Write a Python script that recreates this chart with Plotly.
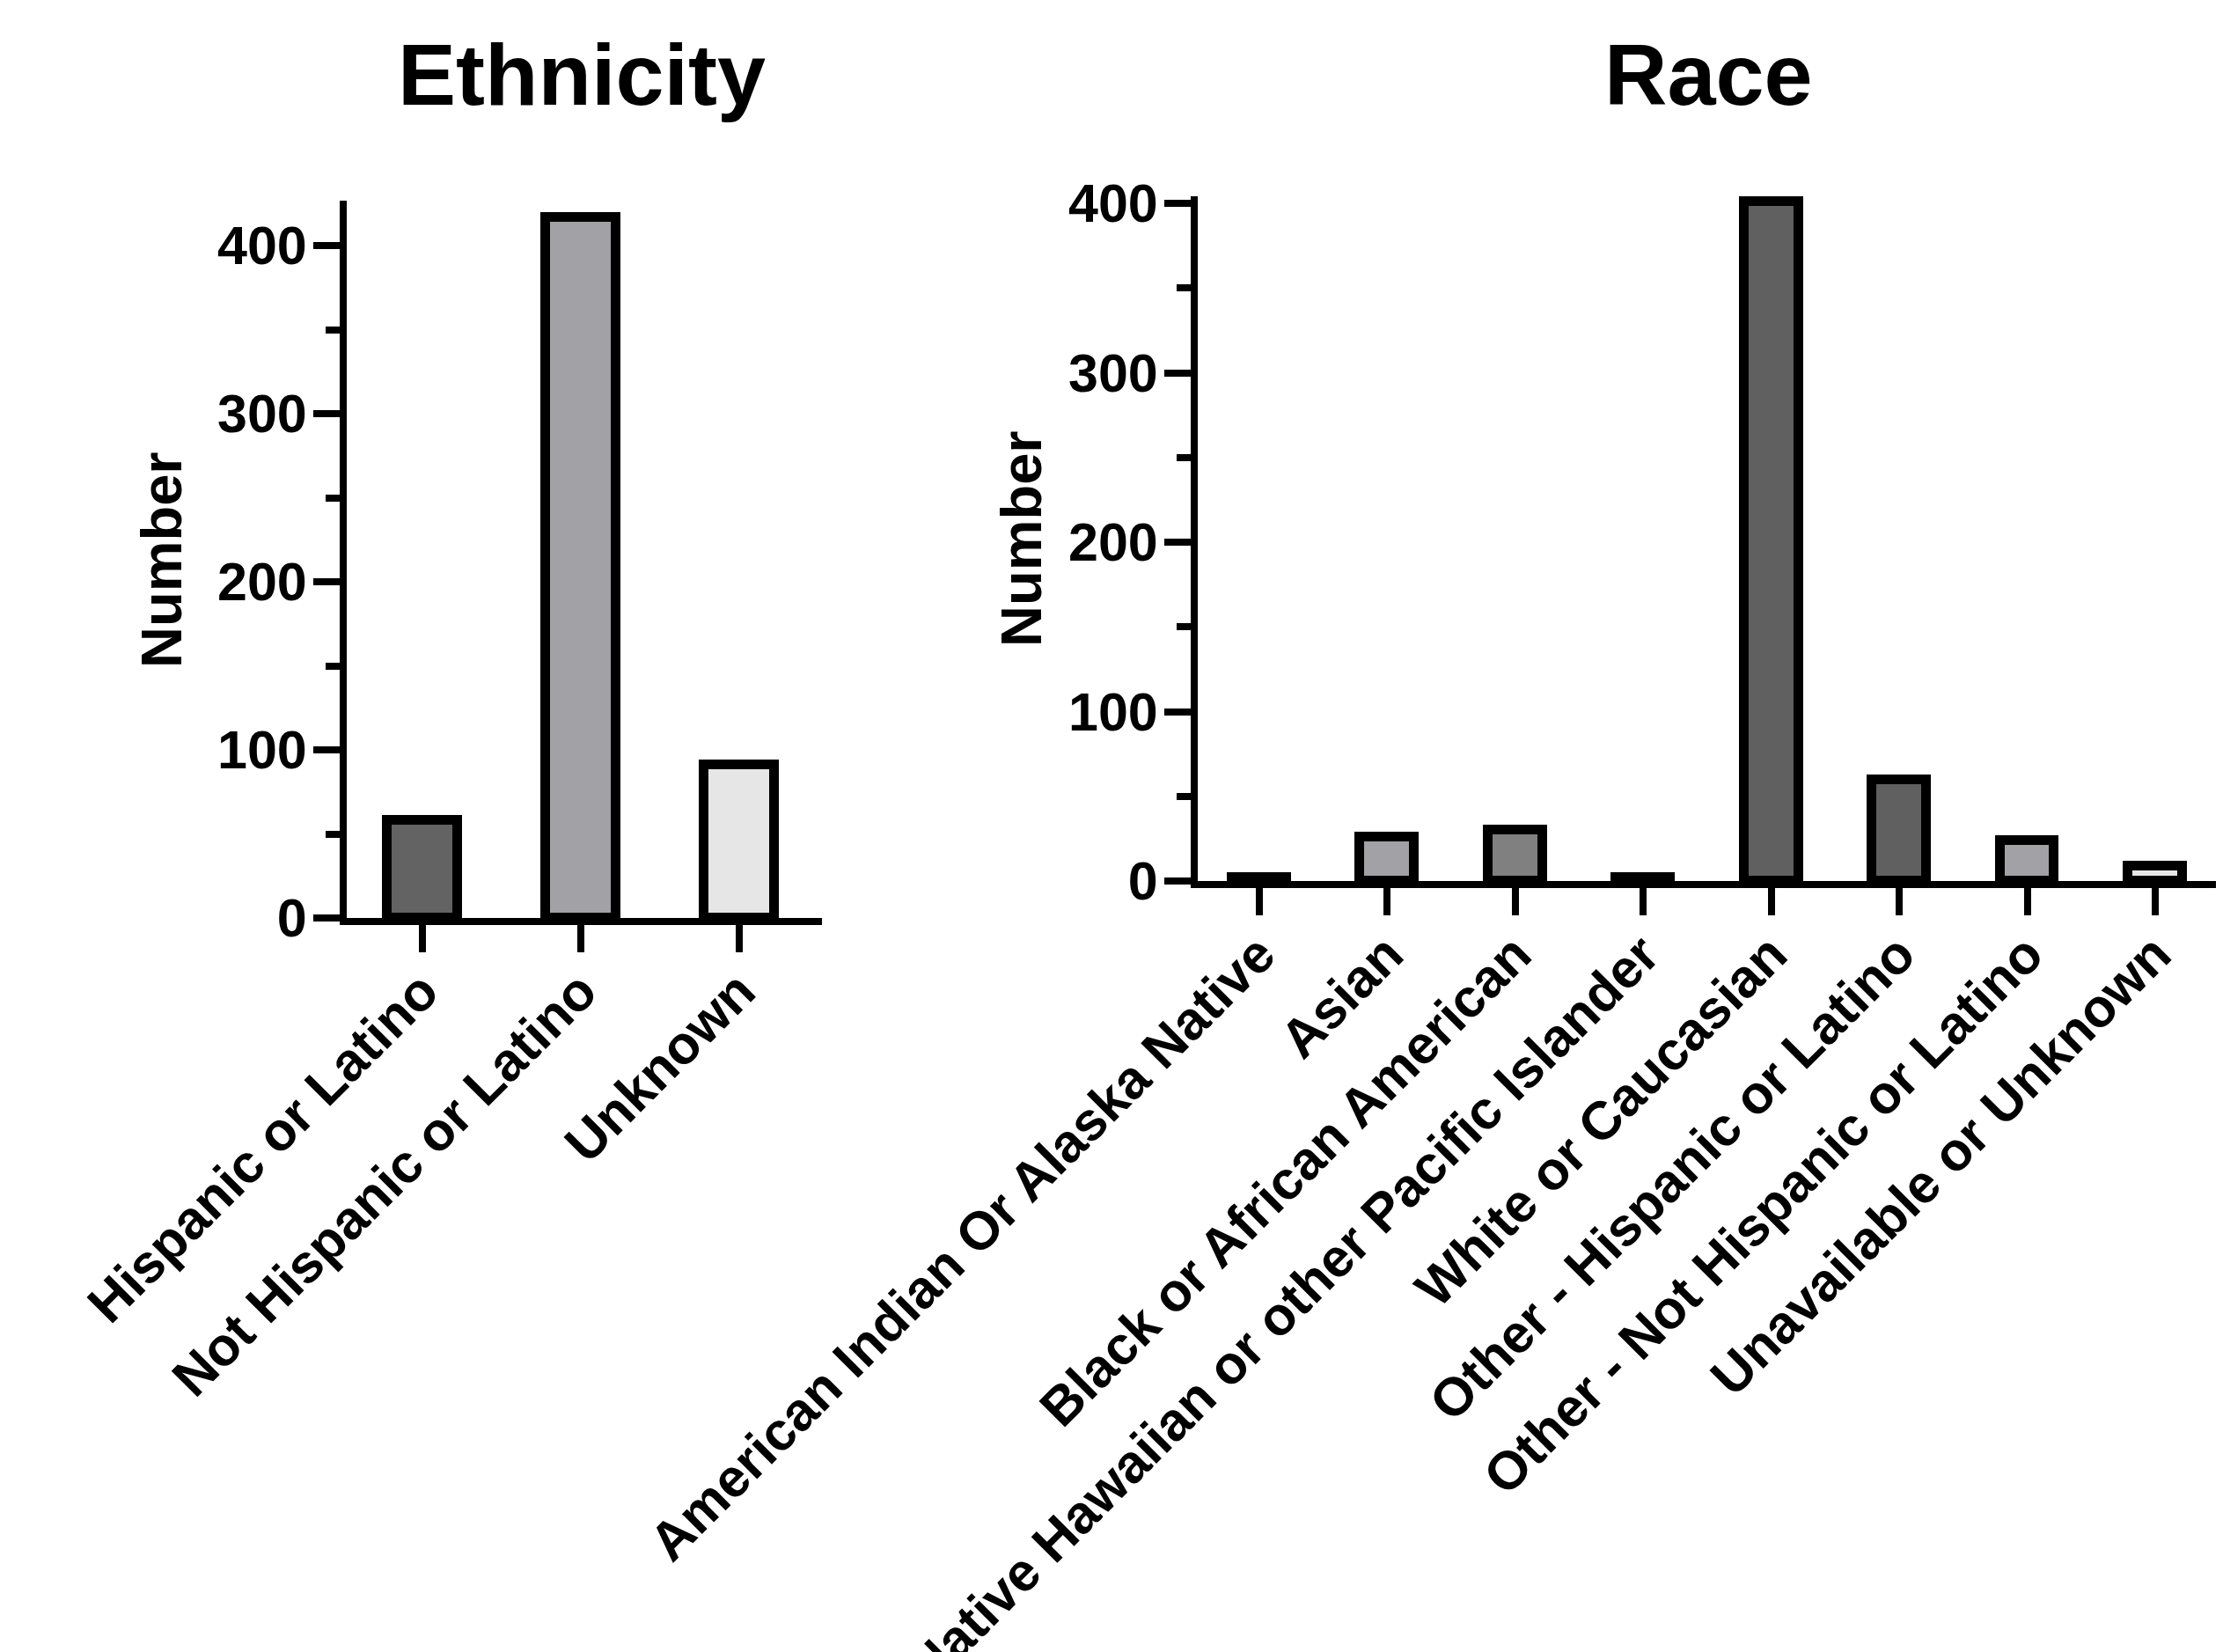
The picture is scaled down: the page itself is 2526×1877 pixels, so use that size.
import plotly.graph_objects as go

# ---------------- data ----------------
eth_cats = ["Hispanic or Latino", "Not Hispanic or Latino", "Unknown"]
eth_vals = [58, 417, 91]
eth_colors = ["#636363", "#a2a1a6", "#e6e6e6"]

race_cats = [
    "American Indian Or Alaska Native",
    "Asian",
    "Black or African American",
    "Native Hawaiian or other Pacific Islander",
    "White or Caucasian",
    "Other - Hispanic or Latino",
    "Other - Not Hispanic or Latino",
    "Unavailable or Unknown",
]
race_vals = [2, 26, 30, 2, 401, 60, 24, 9]
race_colors = ["#636363", "#a2a1a6", "#808080", "#a2a1a6",
               "#606060", "#606060", "#a2a1a6", "#e6e6e6"]

y_ticks = [0, 100, 200, 300, 400]

W, H = 2526, 1877
OFF = 8  # default page body margin
FONT = "Liberation Sans, Arial, sans-serif"
TICKFONT = dict(family=FONT, size=61, color="black", weight="bold")
CATFONT = dict(family=FONT, size=61, color="black", weight="bold")


def px_x(v):
    return (v - OFF) / W


def px_y(v):
    return 1 - (v - OFF) / H


fig = go.Figure()
fig.add_trace(go.Bar(
    x=eth_cats, y=eth_vals, width=0.44,
    marker=dict(color=eth_colors, line=dict(color="black", width=11)),
    xaxis="x", yaxis="y", hoverinfo="x+y"))
fig.add_trace(go.Bar(
    x=race_cats, y=race_vals, width=0.426,
    marker=dict(color=race_colors, line=dict(color="black", width=11)),
    xaxis="x2", yaxis="y2", hoverinfo="x+y"))

xcommon = dict(type="category", showline=True, linewidth=8, linecolor="black",
               ticks="outside", ticklen=31, tickwidth=8, tickcolor="black",
               showgrid=False, zeroline=False, tickangle=-45, tickfont=CATFONT,
               automargin=False, ticklabelstandoff=-16)
ycommon = dict(showline=True, linewidth=8, linecolor="black",
               ticks="outside", ticklen=30, tickwidth=8, tickcolor="black",
               showgrid=False, zeroline=False, tickfont=TICKFONT,
               tickmode="array", tickvals=y_ticks, ticktext=[str(t) for t in y_ticks],
               minor=dict(tickmode="linear", tick0=0, dtick=50, ticks="outside",
                          ticklen=16, tickwidth=8, tickcolor="black", showgrid=False),
               automargin=False, ticklabelstandoff=-5)

fig.update_layout(
    width=W, height=H,
    margin=dict(l=0, r=0, t=0, b=0),
    paper_bgcolor="white", plot_bgcolor="white",
    showlegend=False, bargap=0,
    xaxis=dict(xcommon, domain=[px_x(394), px_x(934)], range=[-0.478, 2.522], anchor="y"),
    yaxis=dict(ycommon, domain=[px_y(1043), px_y(228)], range=[0, 426.7], anchor="x"),
    xaxis2=dict(xcommon, domain=[px_x(1361), px_x(2526)], range=[-0.481, 7.53], anchor="y2"),
    yaxis2=dict(ycommon, domain=[px_y(1001), px_y(223)], range=[0, 404.2], anchor="x2"),
    annotations=[
        dict(text="Ethnicity", x=px_x(661), y=px_y(84), xref="paper", yref="paper",
             xanchor="center", yanchor="middle", showarrow=False,
             font=dict(family=FONT, size=99, color="black", weight="bold")),
        dict(text="Race", x=px_x(1941), y=px_y(84), xref="paper", yref="paper",
             xanchor="center", yanchor="middle", showarrow=False,
             font=dict(family=FONT, size=99, color="black", weight="bold")),
        dict(text="Number", x=px_x(183), y=px_y(636), xref="paper", yref="paper",
             xanchor="center", yanchor="middle", showarrow=False, textangle=-90,
             font=dict(family=FONT, size=65, color="black", weight="bold")),
        dict(text="Number", x=px_x(1160), y=px_y(612), xref="paper", yref="paper",
             xanchor="center", yanchor="middle", showarrow=False, textangle=-90,
             font=dict(family=FONT, size=65, color="black", weight="bold")),
    ],
)

fig.write_html("out.html")
